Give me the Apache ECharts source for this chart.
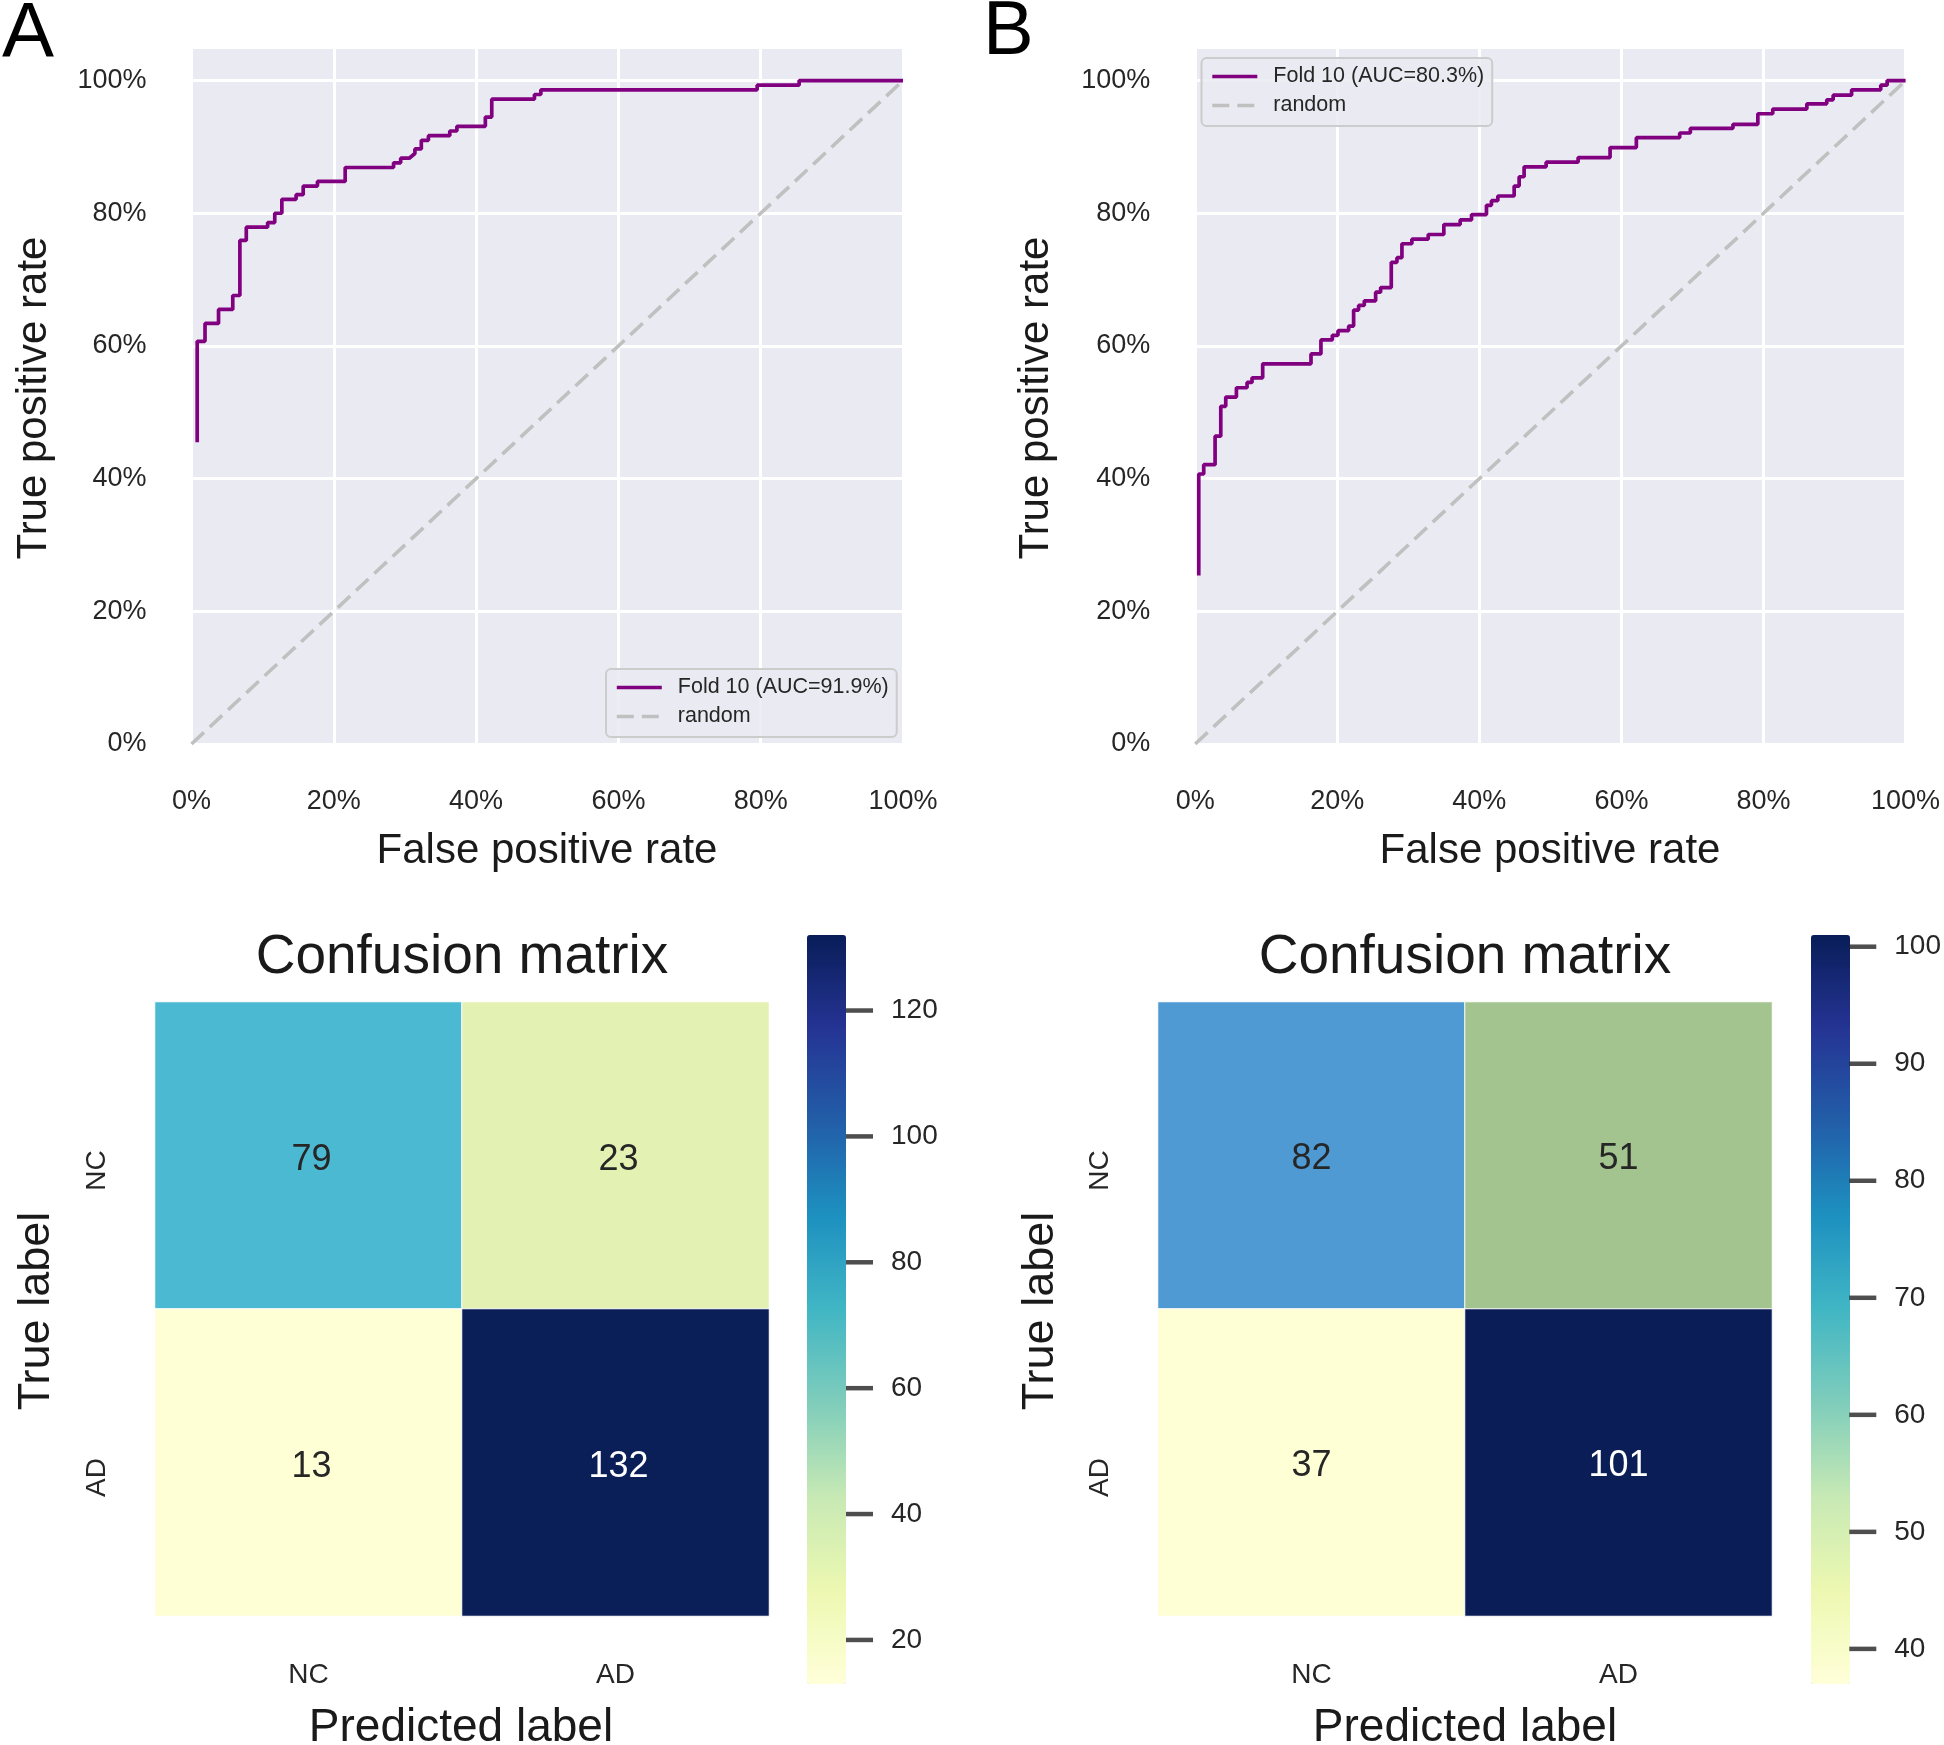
<!DOCTYPE html>
<html><head><meta charset="utf-8">
<script src="https://cdn.jsdelivr.net/npm/echarts@6.0.0/dist/echarts.min.js"></script>
<style>html,body{margin:0;padding:0;background:#fff}#c{width:1944px;height:1745px}</style>
</head><body><div id="c"></div>
<script>
// ---------- data ----------
const pctTicks = [0, 0.2, 0.4, 0.6, 0.8, 1.0];
const randomX = [0, 1];
const randomY = [0, 1];

const nameA = 'Fold 10 (AUC=91.9%)';
const nameB = 'Fold 10 (AUC=80.3%)';

const fprA = [0.008,0.008,0.019,0.019,0.038,0.038,0.058,0.058,0.068,0.068,0.077,0.077,0.107,0.107,0.117,0.117,0.127,0.127,0.147,0.147,0.157,0.157,0.177,0.177,0.216,0.216,0.284,0.284,0.294,0.294,0.306,0.314,0.314,0.323,0.323,0.333,0.333,0.363,0.363,0.373,0.373,0.413,0.413,0.422,0.422,0.482,0.482,0.491,0.491,0.795,0.795,0.854,0.854,1.0];
const tprA = [0.455,0.607,0.607,0.634,0.634,0.655,0.655,0.676,0.676,0.759,0.759,0.779,0.779,0.786,0.786,0.800,0.800,0.821,0.821,0.828,0.828,0.841,0.841,0.848,0.848,0.869,0.869,0.876,0.876,0.883,0.883,0.890,0.897,0.897,0.910,0.910,0.917,0.917,0.924,0.924,0.931,0.931,0.945,0.945,0.972,0.972,0.979,0.979,0.986,0.986,0.993,0.993,1.0,1.0];

const fprB = [0.005,0.005,0.012,0.012,0.028,0.028,0.036,0.036,0.043,0.043,0.058,0.058,0.073,0.073,0.080,0.080,0.095,0.095,0.163,0.163,0.177,0.177,0.193,0.193,0.201,0.201,0.216,0.216,0.223,0.223,0.230,0.230,0.238,0.238,0.254,0.254,0.261,0.261,0.276,0.276,0.284,0.284,0.291,0.291,0.305,0.305,0.328,0.328,0.350,0.350,0.373,0.373,0.389,0.389,0.410,0.410,0.417,0.417,0.426,0.426,0.449,0.449,0.456,0.456,0.463,0.463,0.494,0.494,0.539,0.539,0.584,0.584,0.621,0.621,0.682,0.682,0.697,0.697,0.757,0.757,0.792,0.792,0.813,0.813,0.861,0.861,0.889,0.889,0.898,0.898,0.924,0.924,0.965,0.965,0.974,0.974,1.0];
const tprB = [0.254,0.407,0.407,0.421,0.421,0.464,0.464,0.509,0.509,0.523,0.523,0.537,0.537,0.545,0.545,0.552,0.552,0.573,0.573,0.588,0.588,0.609,0.609,0.616,0.616,0.623,0.623,0.630,0.630,0.654,0.654,0.661,0.661,0.668,0.668,0.681,0.681,0.688,0.688,0.726,0.726,0.733,0.733,0.754,0.754,0.761,0.761,0.768,0.768,0.783,0.783,0.790,0.790,0.798,0.798,0.812,0.812,0.819,0.819,0.826,0.826,0.841,0.841,0.855,0.855,0.870,0.870,0.877,0.877,0.884,0.884,0.899,0.899,0.914,0.914,0.921,0.921,0.928,0.928,0.934,0.934,0.950,0.950,0.957,0.957,0.965,0.965,0.971,0.971,0.978,0.978,0.986,0.986,0.993,0.993,1.0,1.0];

const classLabels = ['NC', 'AD'];
// rows = true label, columns = predicted label
const cmA = [[79, 23], [13, 132]];
const cmB = [[82, 51], [37, 101]];
const cbTicksA = [20, 40, 60, 80, 100, 120];
const cbTicksB = [40, 50, 60, 70, 80, 90, 100];

// ---------- styles ----------
const FONT = "'Liberation Sans', Arial, sans-serif";
const TXT = '#262626';
const YLGNBU = ['#ffffd9','#edf8b1','#c7e9b4','#7fcdbb','#41b6c4','#1d91c0','#225ea8','#253494','#081d58'];
// cell fills as they appear in the published figure (row-major, same layout as the matrices)
const CELL_FILL_A = [['#4cb9d3', '#e3f1b2'], ['#ffffd6', '#0a1e57']];
const CELL_FILL_B = [['#4f9ad3', '#a3c48f'], ['#ffffd6', '#0b1d56']];

function pairs(xs, ys) { return xs.map((x, i) => [x, ys[i]]); }
function flatMin(m) { return Math.min(...m.flat()); }
function flatMax(m) { return Math.max(...m.flat()); }
function heatData(m, fills) {
  const lo = flatMin(m), hi = flatMax(m);
  const out = [];
  m.forEach((row, r) => row.forEach((v, c) => {
    const t = (v - lo) / (hi - lo);
    out.push({
      value: [c, r, v],
      itemStyle: { color: fills[r][c] },
      label: { color: t > 0.8 ? '#ffffff' : TXT }
    });
  }));
  return out;
}

const rocGrids = [
  { left: 191.5, top: 47.4, width: 711.5, height: 696.6 },
  { left: 1195.2, top: 47.4, width: 710.4, height: 696.6 }
];
const heatGrids = [
  { left: 155, top: 1002, width: 614, height: 614 },
  { left: 1158, top: 1002, width: 614, height: 614 }
];
const cbGrids = [
  { left: 807, top: 935, width: 39, height: 749 },
  { left: 1811, top: 935, width: 39, height: 749 }
];

const grid = [];
rocGrids.forEach(g => grid.push(Object.assign({ show: true, backgroundColor: '#eaeaf2', borderWidth: 0 }, g)));
heatGrids.forEach(g => grid.push(Object.assign({ show: false }, g)));
cbGrids.forEach(g => grid.push(Object.assign({ show: false }, g)));

const pctFmt = v => Math.round(v * 100) + '%';
const xAxis = [], yAxis = [];
[0, 1].forEach(i => {
  xAxis.push({
    gridIndex: i, type: 'value', min: 0, max: 1, interval: 0.2,
    axisLine: { show: false }, axisTick: { show: false },
    axisLabel: { formatter: pctFmt, fontSize: 27, color: TXT, fontFamily: FONT, margin: 44 },
    splitLine: { show: true, lineStyle: { color: '#ffffff', width: 3 } }
  });
  yAxis.push({
    gridIndex: i, type: 'value', min: 0, max: 1.05, interval: 0.2,
    axisLine: { show: false }, axisTick: { show: false },
    axisLabel: { formatter: pctFmt, fontSize: 27, color: TXT, fontFamily: FONT, margin: 45, showMaxLabel: false },
    splitLine: { show: true, lineStyle: { color: '#ffffff', width: 3 } }
  });
});
[2, 3].forEach(i => {
  xAxis.push({
    gridIndex: i, type: 'category', data: classLabels, position: 'bottom',
    axisLine: { show: false }, axisTick: { show: false }, splitLine: { show: false },
    axisLabel: { fontSize: 28, color: TXT, fontFamily: FONT, margin: 45 }
  });
  yAxis.push({
    gridIndex: i, type: 'category', data: classLabels, inverse: true,
    axisLine: { show: false }, axisTick: { show: false }, splitLine: { show: false },
    axisLabel: { fontSize: 28, color: TXT, fontFamily: FONT, margin: 44, rotate: 90, padding: [0, 30, 0, 0] }
  });
});
[[4, cmA, cbTicksA], [5, cmB, cbTicksB]].forEach(([i, m, ticks]) => {
  xAxis.push({ gridIndex: i, type: 'value', min: 0, max: 1, show: false });
  yAxis.push({
    gridIndex: i, type: 'value', position: 'right', min: flatMin(m), max: flatMax(m),
    axisLine: { show: false }, splitLine: { show: false }, axisTick: { show: false },
    axisLabel: { show: true, customValues: ticks, fontSize: 28, color: TXT, fontFamily: FONT, margin: 45 }
  });
});

function rocSeries(name, xs, ys, gi) {
  return [{
    name: name, type: 'line', xAxisIndex: gi, yAxisIndex: gi,
    data: pairs(xs, ys), symbol: 'none', showSymbol: false, silent: true, z: 4,
    itemStyle: { color: '#800080' }, lineStyle: { color: '#800080', width: 3.7 }
  }, {
    name: 'random', type: 'line', xAxisIndex: gi, yAxisIndex: gi,
    data: pairs(randomX, randomY), symbol: 'none', showSymbol: false, silent: true, z: 3,
    itemStyle: { color: '#c0c0c0' }, lineStyle: { color: '#c0c0c0', width: 3.6, type: [17, 8] }
  }];
}

// colour-bar tick marks, placed on the colour-bar value axis
function cbTickSeries(ticks, gi) {
  return {
    type: 'scatter', xAxisIndex: gi, yAxisIndex: gi, silent: true, clip: false, z: 5,
    data: ticks.map(v => [1, v]),
    symbol: 'rect', symbolSize: [27, 4.5], symbolOffset: [13.5, 0],
    itemStyle: { color: '#222222' }
  };
}

const series = [
  ...rocSeries(nameA, fprA, tprA, 0),
  ...rocSeries(nameB, fprB, tprB, 1),
  {
    type: 'heatmap', xAxisIndex: 2, yAxisIndex: 2, data: heatData(cmA, CELL_FILL_A), silent: true,
    itemStyle: { borderColor: '#ffffff', borderWidth: 1 },
    label: { show: true, formatter: p => p.value[2], fontSize: 36, fontFamily: FONT, offset: [3, 5] }
  },
  {
    type: 'heatmap', xAxisIndex: 3, yAxisIndex: 3, data: heatData(cmB, CELL_FILL_B), silent: true,
    itemStyle: { borderColor: '#ffffff', borderWidth: 1 },
    label: { show: true, formatter: p => p.value[2], fontSize: 36, fontFamily: FONT, offset: [0, 4] }
  },
  cbTickSeries(cbTicksA, 4),
  cbTickSeries(cbTicksB, 5)
];

// colour bars (YlGnBu scale over each matrix's value range)
const visualMap = [[cmA, cbGrids[0]], [cmB, cbGrids[1]]].map(([m, g]) => ({
  type: 'continuous', min: flatMin(m), max: flatMax(m), seriesIndex: [],
  left: g.left, top: g.top, itemWidth: g.width, itemHeight: g.height, padding: 0,
  calculable: false, hoverLink: false, text: ['', ''], showLabel: false,
  inRange: { color: YLGNBU }
}));

const legendCommon = {
  orient: 'vertical', itemWidth: 45, itemHeight: 14, itemGap: 4,
  backgroundColor: 'rgba(234,234,242,0.85)', borderColor: '#cccccc', borderWidth: 2, borderRadius: 5,
  padding: [6, 8, 8, 9], selectedMode: false,
  itemStyle: { opacity: 0 },
  lineStyle: { width: 3.6 },
  textStyle: { fontSize: 21.5, color: TXT, fontFamily: FONT, lineHeight: 25, padding: [0, 0, 0, 11] }
};
const legend = [
  Object.assign({}, legendCommon, { data: [nameA, 'random'], left: 606, top: 669 }),
  Object.assign({}, legendCommon, { data: [nameB, 'random'], left: 1201.5, top: 58 })
];

function txt(text, x, y, size, rot) {
  return {
    type: 'text', x: x, y: y, rotation: rot || 0, silent: true,
    style: { text: text, fontSize: size, fontFamily: FONT, fill: '#1a1a1a',
      align: 'center', verticalAlign: 'middle', textAlign: 'center', textVerticalAlign: 'middle' }
  };
}
const graphic = [
  { type: 'text', x: 2, y: 35, silent: true, style: { text: 'A', fontSize: 78, fontFamily: FONT, fill: '#000', align: 'left', verticalAlign: 'middle', textAlign: 'left', textVerticalAlign: 'middle' } },
  { type: 'text', x: 983, y: 33, silent: true, style: { text: 'B', fontSize: 76, fontFamily: FONT, fill: '#000', align: 'left', verticalAlign: 'middle', textAlign: 'left', textVerticalAlign: 'middle' } },
  txt('True positive rate', 34, 398, 42, Math.PI / 2),
  txt('False positive rate', 547, 851, 42),
  txt('True positive rate', 1036.5, 398, 42, Math.PI / 2),
  txt('False positive rate', 1550, 851, 42),
  txt('Confusion matrix', 462, 958, 55),
  txt('Confusion matrix', 1465, 958, 55),
  txt('Predicted label', 461, 1728, 46),
  txt('Predicted label', 1465, 1728, 46),
  txt('True label', 37, 1311, 45, Math.PI / 2),
  txt('True label', 1041, 1311, 45, Math.PI / 2)
];

const chart = echarts.init(document.getElementById('c'), null, { renderer: 'canvas' });
chart.setOption({
  animation: false,
  backgroundColor: '#ffffff',
  textStyle: { fontFamily: FONT },
  grid: grid, xAxis: xAxis, yAxis: yAxis,
  series: series, visualMap: visualMap, legend: legend, graphic: graphic
});
</script>
</body></html>
